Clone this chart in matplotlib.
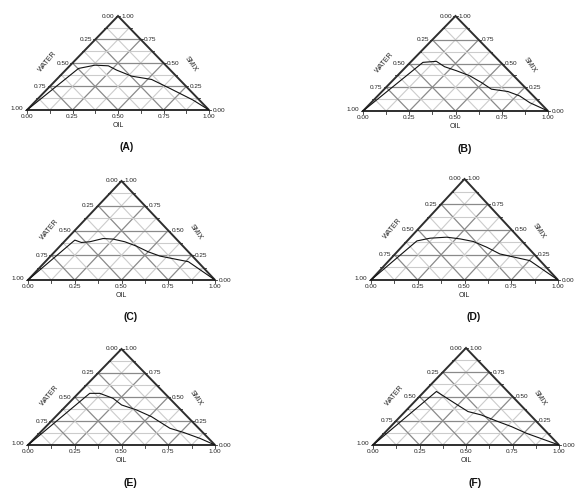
import matplotlib
matplotlib.use("Agg")
import numpy as np
import matplotlib.pyplot as plt

plt.rcParams["font.family"] = ["Liberation Sans", "DejaVu Sans"]

# ── Data: phase boundary points per panel (oil, smix fractions; water = rest) ─
PANELS = ["(A)", "(B)", "(C)", "(D)", "(E)", "(F)"]

oil_a  = [0.0, 0.062, 0.135, 0.212, 0.281, 0.395, 0.522, 0.670, 0.859, 1.0]
smix_a = [0.0, 0.442, 0.477, 0.470, 0.424, 0.360, 0.325, 0.230, 0.106, 0.0]

oil_b  = [0.0, 0.068, 0.135, 0.208, 0.293, 0.391, 0.490, 0.579, 0.681, 0.767, 0.857, 1.0]
smix_b = [0.0, 0.512, 0.523, 0.466, 0.424, 0.371, 0.300, 0.230, 0.205, 0.159, 0.088, 0.0]

oil_c  = [0.0, 0.049, 0.096, 0.137, 0.192, 0.249, 0.325, 0.409, 0.500, 0.584, 0.691, 0.765, 1.0]
smix_c = [0.0, 0.403, 0.379, 0.386, 0.419, 0.413, 0.386, 0.342, 0.285, 0.242, 0.208, 0.185, 0.0]

oil_d  = [0.0, 0.052, 0.109, 0.193, 0.273, 0.357, 0.456, 0.560, 0.657, 0.753, 1.0]
smix_d = [0.0, 0.387, 0.414, 0.424, 0.407, 0.381, 0.325, 0.258, 0.225, 0.192, 0.0]

oil_e  = [0.0, 0.061, 0.115, 0.212, 0.292, 0.398, 0.513, 0.672, 0.764, 0.885, 1.0]
smix_e = [0.0, 0.538, 0.538, 0.486, 0.417, 0.365, 0.295, 0.174, 0.132, 0.069, 0.0]

oil_f  = [0.0, 0.065, 0.224, 0.338, 0.427, 0.539, 0.649, 0.764, 1.0]
smix_f = [0.0, 0.552, 0.431, 0.345, 0.310, 0.248, 0.190, 0.121, 0.0]

CURVES = [(oil_a, smix_a), (oil_b, smix_b), (oil_c, smix_c),
          (oil_d, smix_d), (oil_e, smix_e), (oil_f, smix_f)]

TICKS = [0.0, 0.25, 0.5, 0.75, 1.0]
TICK_LABELS = ["0.00", "0.25", "0.50", "0.75", "1.00"]

# ── Layout: triangle boxes in pixels (left, bottom, right, top) ───────────────
W, H = 578, 490
BOXES = [(27, 110, 209, 16), (363, 111, 548, 16),
         (28, 280, 215, 181), (371, 280, 558, 179),
         (28, 445, 215, 349), (373, 445, 559, 348)]

EDGE = "#2e2e2e"
GRID_MAJOR = "#8a8a8a"
GRID_MINOR = "#cccccc"
FS = 4.6


def tern(oil, smix):
    oil, smix = np.asarray(oil), np.asarray(smix)
    return oil + smix / 2, smix


def draw_ternary(ax, oil, smix, label):
    ax.set_xlim(0, 1)
    ax.set_ylim(0, 1)
    ax.axis("off")

    # grid
    for k in range(1, 8):
        t = k / 8
        col, lw = (GRID_MAJOR, 0.9) if k % 2 == 0 else (GRID_MINOR, 0.8)
        ax.plot([t / 2, 1 - t / 2], [t, t], color=col, lw=lw, zorder=1)
        ax.plot([t, t + (1 - t) / 2], [0, 1 - t], color=col, lw=lw, zorder=1)
        ax.plot([1 - t, (1 - t) / 2], [0, 1 - t], color=col, lw=lw, zorder=1)

    # frame
    ax.plot([0, 1, 0.5, 0], [0, 0, 1, 0], color=EDGE, lw=1.4, zorder=3,
            clip_on=False, solid_joinstyle="miter")

    # small ticks
    for k in range(9):
        t = k / 8
        ax.plot([t, t], [0, -0.03], color=EDGE, lw=0.6, clip_on=False)
        ax.plot([t / 2, t / 2 - 0.012], [t, t], color=EDGE, lw=0.6, clip_on=False)
        ax.plot([1 - t / 2, 1 - t / 2 + 0.012], [t, t], color=EDGE, lw=0.6, clip_on=False)

    # tick labels
    for v, s in zip(TICKS, TICK_LABELS):
        ax.annotate(s, (v, 0), xytext=(0, -3), textcoords="offset points",
                    ha="center", va="top", fontsize=FS, color="#222222")
        sm = 1 - v  # water axis: water = v at smix = 1 - v
        dy = 1.2 if v == 1.0 else 0
        ax.annotate(s, (sm / 2, sm), xytext=(-2.5, dy), textcoords="offset points",
                    ha="right", va="center", fontsize=FS, color="#222222")
        ax.annotate(s, (1 - v / 2, v), xytext=(2.5, 0), textcoords="offset points",
                    ha="left", va="center", fontsize=FS, color="#222222")

    # axis titles
    ax.annotate("OIL", (0.5, 0), xytext=(0, -11.5), textcoords="offset points",
                ha="center", va="center", fontsize=FS + 0.4, color="#222222")
    ax.annotate("WATER", (0.25, 0.5), xytext=(-18, 1), textcoords="offset points",
                ha="center", va="center", rotation=50, fontsize=FS + 0.4, color="#222222")
    ax.annotate("SMIX", (0.75, 0.5), xytext=(20, -1), textcoords="offset points",
                ha="center", va="center", rotation=-55, fontsize=FS + 0.4, color="#222222")

    # phase boundary
    x, y = tern(oil, smix)
    ax.plot(x, y, color="#111111", lw=0.8, zorder=4, clip_on=False)

    ax.annotate(label, (0.55, 0), xytext=(0, -27), textcoords="offset points",
                ha="center", va="center", fontsize=7.5, fontweight="bold", color="#111111")


fig = plt.figure(figsize=(W / 100, H / 100), dpi=100)
for (l, b, r, t), (oil, smix), label in zip(BOXES, CURVES, PANELS):
    ax = fig.add_axes([l / W, 1 - b / H, (r - l) / W, (b - t) / H])
    draw_ternary(ax, oil, smix, label)

fig.savefig("out.png", dpi=100)
